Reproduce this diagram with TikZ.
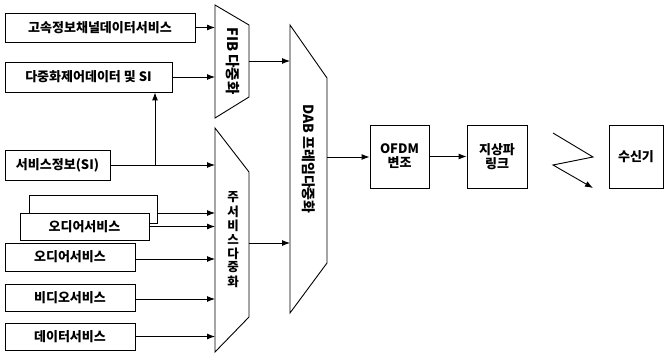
\documentclass[tikz,border=0pt]{standalone}
\usepackage{fontspec}
\setmainfont{Noto Sans CJK KR}
\usetikzlibrary{arrows.meta}
\begin{document}
\begin{tikzpicture}[x=1pt,y=-1pt,
  box/.style={draw, line width=0.9pt, inner sep=0pt, fill=white, font=\bfseries\fontsize{13}{14}\selectfont},
  lbl/.style={inner sep=0pt, font=\bfseries\fontsize{13}{14}\selectfont},
  trap/.style={draw, line width=0.9pt},
  arr/.style={-{Latex[length=8pt,width=6pt]}, line width=0.9pt}]
\useasboundingbox (0,0) rectangle (665,361);
% left boxes
\node[box, minimum width=190pt, minimum height=29pt] (b1) at (100,27.5) {고속정보채널데이터서비스};
\node[box, minimum width=167pt, minimum height=30pt] (b2) at (88.5,77) {다중화제어데이터 및 SI};
\node[box, minimum width=105pt, minimum height=30pt] (si) at (57.5,165) {서비스정보(SI)};
\node[box, minimum width=128pt, minimum height=28pt] (ab) at (93,209) {};
\node[box, minimum width=129pt, minimum height=27pt] (fa) at (84.5,226.5) {오디어서비스};
\node[box, minimum width=130pt, minimum height=28pt] (au) at (70,257) {오디어서비스};
\node[box, minimum width=130pt, minimum height=27pt] (vi) at (70,297.5) {비디오서비스};
\node[box, minimum width=130pt, minimum height=27pt] (da) at (70,336.5) {데이터서비스};
% FIB mux
\draw[trap] (215,5) -- (249,25) -- (249,97) -- (215,118) -- cycle;
\coordinate (fibL) at (215,0);
\coordinate (fibR) at (249,61);
\node[lbl, rotate=-90, font=\bfseries\fontsize{14.5}{15}\selectfont] (fibt) at (233,61) {FIB 다중화};
% main service mux
\draw[trap] (215,128) -- (249,172) -- (249,317) -- (215,352) -- cycle;
\coordinate (msL) at (215,0);
\coordinate (msR) at (249,243);
\foreach \c [count=\i] in {주,서,비,스,다,중,화}
  \node[lbl, font=\bfseries\fontsize{12.5}{13}\selectfont] (ms\i) at (233,{183.5+14*\i}) {\c};
% DAB frame mux
\draw[trap] (290,25) -- (327,78) -- (327,263) -- (290,313) -- cycle;
\coordinate (dabL) at (290,0);
\coordinate (dabR) at (327,157);
\node[lbl, rotate=-90, font=\bfseries\fontsize{14}{15}\selectfont] (dabt) at (309,159) {DAB 프레임다중화};
% right chain
\node[box, minimum width=59pt, minimum height=63pt, align=center] (ofdm) at (399.5,156.5) {OFDM\\변조};
\node[box, minimum width=60pt, minimum height=63pt, align=center] (link) at (497,156.5) {지상파\\링크};
\node[box, minimum width=54pt, minimum height=63pt] (rx) at (636,156.5) {수신기};
% connectors
\draw[arr] (b1.east) -- (b1.east -| fibL);
\draw[arr] (b2.east) -- (b2.east -| fibL);
\coordinate (j) at (155,165);
\draw[arr] (si.east) -- (si.east -| msL);
\draw[arr] (j) -- (j |- b2.south);
\draw[arr] ([yshift=-4pt]ab.east) -- ([yshift=-4pt]ab.east -| msL);
\draw[arr] (fa.east) -- (fa.east -| msL);
\draw[arr] ([yshift=-2pt]au.east) -- ([yshift=-2pt]au.east -| msL);
\draw[arr] ([yshift=-1.5pt]vi.east) -- ([yshift=-1.5pt]vi.east -| msL);
\draw[arr] (da.east) -- (da.east -| msL);
\draw[arr] (fibR) -- (fibR -| dabL);
\draw[arr] (msR) -- (msR -| dabL);
\draw[arr] (dabR) -- (dabR -| ofdm.west);
\draw[arr] (ofdm.east) -- (link.west);
% radio link
\coordinate (z1) at (553,133);
\coordinate (z2) at (593,157);
\coordinate (z3) at (553,165);
\coordinate (z4) at (593,188);
\draw[arr] (z1) -- (z2) -- (z3) -- (z4);
\end{tikzpicture}
\end{document}
